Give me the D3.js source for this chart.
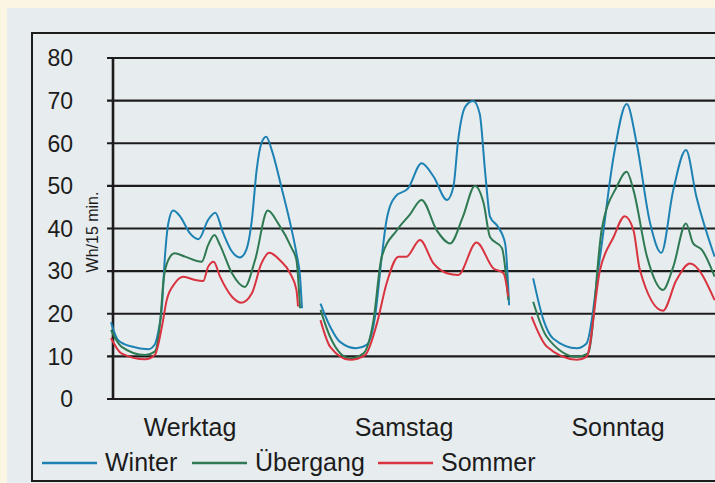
<!DOCTYPE html>
<html>
<head>
<meta charset="utf-8">
<script src="https://cdn.jsdelivr.net/npm/d3@7"></script>
<style>
  html, body { margin: 0; padding: 0; background: #fbf5e3; }
  svg { display: block; font-family: "Liberation Sans", Arial, sans-serif; }
</style>
</head>
<body>
<svg id="chart" width="715" height="483"></svg>
<script>
// Standard household load profile: three day types, three seasons.
// Each series is [hour of day, Wh per 15 min].

const days = ['Werktag', 'Samstag', 'Sonntag'];
const seasons = ['Winter', 'Übergang', 'Sommer'];
const yTicks = [0, 10, 20, 30, 40, 50, 60, 70, 80];
const yLabel = 'Wh/15 min.';

const winterWerktag = [[0, 18], [0.9, 13.8], [2.6, 12.3], [4.7, 11.7], [5.5, 12.8], [5.9, 15.4], [6.4, 21.7], [6.8, 34], [7.2, 41.2], [7.8, 44.2], [8.7, 42.8], [9.9, 38.9], [11.0, 37.5], [12.2, 42], [13.1, 43.7], [14.1, 38.9], [15.2, 34.6], [16.2, 33.2], [17.0, 35], [17.7, 42], [18.3, 53.7], [18.9, 60], [19.5, 61.5], [20.2, 58.4], [21.4, 49.8], [22.7, 39.7], [23.3, 34.2], [23.75, 28.7], [24, 21.3]];
const uebergangWerktag = [[0, 16.2], [1.3, 12.3], [4.3, 10.3], [5.5, 11.1], [6.2, 18.5], [6.6, 27.9], [7.2, 32.6], [8.0, 34.2], [9.3, 33.4], [11.4, 32.2], [12.2, 36.1], [13.0, 38.5], [13.7, 36.1], [15.2, 29.5], [16.8, 26.3], [18.1, 32.6], [19.7, 44.2], [21.0, 41.2], [22.7, 35.4], [23.3, 32.6], [23.75, 21.3]];
const sommerWerktag = [[0, 14.3], [1.3, 10.7], [4.3, 9.3], [5.5, 10.3], [6.4, 17], [7.0, 23.2], [8.0, 27.1], [9.1, 28.7], [10.6, 27.9], [11.6, 27.7], [12.2, 31], [12.9, 32.2], [13.7, 28.7], [15.2, 24], [16.4, 22.6], [17.7, 24.8], [18.9, 31.8], [19.9, 34.3], [21.2, 32.6], [22.5, 29.5], [23.3, 25.6], [23.5, 21.7]];

const winterSamstag = [[0, 22.4], [1.2, 17], [2.45, 13.4], [4.5, 11.9], [5.8, 12.7], [6.85, 19.3], [7.7, 33.4], [8.3, 42], [9.4, 47.5], [11.0, 49.4], [12.7, 55.3], [14.2, 52.2], [15.9, 46.7], [16.7, 49.8], [17.3, 60.8], [18.2, 68.6], [19.2, 69.9], [20.0, 67], [20.7, 53], [21.3, 42.8], [22.3, 40.4], [23.2, 36.5], [23.7, 22]];
const uebergangSamstag = [[0, 20.9], [1.2, 14.6], [3.7, 9.5], [5.4, 10.7], [6.6, 17.8], [7.7, 33.4], [9.6, 39.6], [11.2, 43.2], [12.7, 46.7], [14.6, 39.6], [16.3, 36.5], [17.9, 42.8], [19.4, 50], [20.5, 45.9], [21.3, 38], [22.8, 35.4], [23.6, 23.2]];
const sommerSamstag = [[0, 18.5], [1.2, 12.3], [3.7, 9.2], [5.6, 10.3], [7.1, 17.8], [8.3, 27.1], [9.8, 33.4], [10.8, 33.4], [12.5, 37.3], [14.2, 31.8], [15.9, 29.5], [17.3, 29.1], [19.6, 36.7], [21.7, 30.7], [23.0, 29.5], [23.6, 24]];

const winterSonntag = [[0.4, 28.3], [1.7, 18.5], [2.9, 14.2], [5.9, 11.9], [7.1, 13], [8.8, 33.4], [10.5, 56.8], [12.15, 69.2], [13.4, 60], [15.1, 41.2], [16.5, 34.3], [18.0, 49], [19.6, 58.4], [20.9, 47.5], [23.2, 33.4]];
const uebergangSonntag = [[0.4, 22.8], [2.1, 14.6], [5.9, 9.9], [7.3, 10.7], [9.0, 39.6], [10.9, 49.8], [12.15, 53.3], [13.0, 49], [14.7, 33.4], [16.7, 25.6], [18.0, 31], [19.6, 41.2], [20.5, 36.5], [21.6, 35], [23.2, 28.7]];
const sommerSonntag = [[0.2, 19.3], [2.1, 12.3], [5.9, 9.2], [7.1, 9.9], [8.8, 30.3], [10.5, 38], [11.9, 42.9], [13.0, 39.6], [13.8, 30.3], [16.7, 20.7], [18.4, 27.9], [20.1, 31.8], [23.2, 23.2]];

const colors = { 'Winter': '#1d82b3', 'Übergang': '#2f7a52', 'Sommer': '#d8333f' };

// table the line generator walks over
const series = [
    { day: 'Werktag', season: 'Winter', values: winterWerktag },
    { day: 'Werktag', season: 'Übergang', values: uebergangWerktag },
    { day: 'Werktag', season: 'Sommer', values: sommerWerktag },
    { day: 'Samstag', season: 'Winter', values: winterSamstag },
    { day: 'Samstag', season: 'Übergang', values: uebergangSamstag },
    { day: 'Samstag', season: 'Sommer', values: sommerSamstag },
    { day: 'Sonntag', season: 'Winter', values: winterSonntag },
    { day: 'Sonntag', season: 'Übergang', values: uebergangSonntag },
    { day: 'Sonntag', season: 'Sommer', values: sommerSonntag },
];

const W = 715, H = 483;
const plot = { left: 113, top: 58, bottom: 399, right: 721 };
const ink = '#1c1c1c';

const svg = d3.select('#chart');

// scanned page: cream margin, grey-blue paper, framed box
svg.append('rect').attr('x', 7).attr('y', 8).attr('width', W).attr('height', H)
    .attr('fill', '#e7ecef');
svg.append('rect').attr('x', 32).attr('y', 33).attr('width', W).attr('height', 448)
    .attr('fill', 'none').attr('stroke', ink).attr('stroke-width', 2);

const y = d3.scaleLinear().domain([0, 80]).range([plot.bottom, plot.top]);
const xDay = d3.scaleBand().domain(days).range([111, 721]).paddingInner(0.0883);
const hourScale = (day) => d3.scaleLinear().domain([0, 24])
    .range([xDay(day), xDay(day) + xDay.bandwidth()]);

// gridlines, poking a little left of the axis
svg.append('g').selectAll('line').data(yTicks).join('line')
    .attr('x1', plot.left - 6).attr('x2', W + 5)
    .attr('y1', (d) => y(d)).attr('y2', (d) => y(d))
    .attr('stroke', ink).attr('stroke-width', 2.2);

svg.append('line')
    .attr('x1', plot.left).attr('x2', plot.left)
    .attr('y1', plot.top - 1).attr('y2', plot.bottom + 1)
    .attr('stroke', ink).attr('stroke-width', 2.6);

svg.append('g').selectAll('text').data(yTicks).join('text')
    .attr('x', 73).attr('y', (d) => y(d)).attr('dy', '0.36em')
    .attr('text-anchor', 'end').attr('font-size', 23).attr('fill', ink)
    .text((d) => d);

svg.append('text')
    .attr('transform', 'translate(98,232) rotate(-90)')
    .attr('text-anchor', 'middle').attr('font-size', 16).attr('fill', ink)
    .text(yLabel);

// the load curves
const gLines = svg.append('g');
series.forEach((s) => {
    const hx = hourScale(s.day);
    const line = d3.line()
        .x((d) => hx(d[0]))
        .y((d) => y(d[1]))
        .curve(d3.curveMonotoneX);
    gLines.append('path')
        .attr('d', line(s.values))
        .attr('fill', 'none')
        .attr('stroke', colors[s.season])
        .attr('stroke-width', 2)
        .attr('stroke-linejoin', 'round');
});

// day captions
const labelX = d3.scalePoint().domain(days).range([190, 618]);
svg.append('g').selectAll('text').data(days).join('text')
    .attr('x', (d) => labelX(d)).attr('y', 436)
    .attr('text-anchor', 'middle').attr('font-size', 25).attr('fill', ink)
    .text((d) => d);

// legend
const legendX = d3.scaleOrdinal().domain(seasons).range([42, 192, 378]);
const legend = svg.append('g').selectAll('g').data(seasons).join('g')
    .attr('transform', (d) => `translate(${legendX(d)},463)`);
legend.append('line')
    .attr('x1', 0).attr('x2', 55)
    .attr('stroke', (d) => colors[d]).attr('stroke-width', 2.5);
legend.append('text')
    .attr('x', 63).attr('y', 8)
    .attr('font-size', 25).attr('fill', ink)
    .text((d) => d);
</script>
</body>
</html>
